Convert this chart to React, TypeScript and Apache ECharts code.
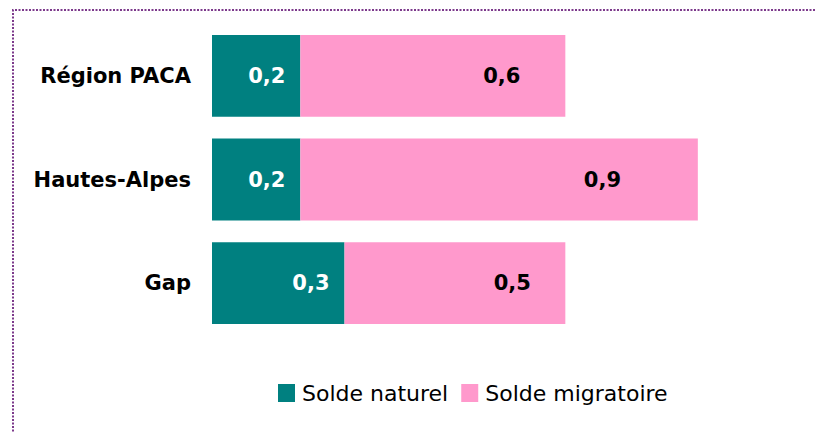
import React, { useEffect, useRef } from "react";
import * as echarts from "echarts";

const categories = ["Région PACA", "Hautes-Alpes", "Gap"];
const soldeNaturel = [0.2, 0.2, 0.3];
const soldeMigratoire = [0.6, 0.9, 0.5];
const seriesNames = ["Solde naturel", "Solde migratoire"];

const fmt = (v: number) => String(v).replace(".", ",");

export default function App() {
  const ref = useRef<HTMLDivElement>(null);
  useEffect(() => {
    const chart = echarts.init(ref.current!, null, { renderer: "svg" });
    chart.setOption({
      animation: false,
      backgroundColor: "#ffffff",
      grid: { left: 212, right: 75, top: 24, bottom: 97 },
      xAxis: {
        type: "value",
        min: 0,
        max: 1.2,
        show: false,
      },
      yAxis: {
        type: "category",
        data: categories,
        inverse: true,
        axisLine: { show: false },
        axisTick: { show: false },
        axisLabel: {
          margin: 21,
          color: "#000",
          fontSize: 21,
          fontWeight: "bold",
          fontFamily: "DejaVu Sans",
        },
      },
      legend: {
        top: 382,
        left: 278,
        padding: 0,
        itemWidth: 17,
        itemHeight: 18,
        itemGap: 13,
        icon: "rect",
        textStyle: { fontSize: 22, color: "#000", fontFamily: "DejaVu Sans", padding: [0, 0, 0, 2] },
        data: seriesNames,
      },
      graphic: [
        {
          type: "polyline",
          shape: { points: [[815, 10], [13, 10], [13, 450]] },
          style: {
            fill: "none",
            stroke: "#7d3a8c",
            lineWidth: 2,
            lineDash: [2, 1.5],
          },
          silent: true,
        },
      ],
      series: [
        {
          name: seriesNames[0],
          type: "bar",
          stack: "total",
          barWidth: "79%",
          itemStyle: { color: "#008080" },
          label: {
            show: true,
            position: "insideRight",
            distance: 15,
            color: "#fff",
            fontSize: 21,
            fontWeight: "bold",
            fontFamily: "DejaVu Sans",
            formatter: (p: any) => fmt(p.value),
          },
          data: soldeNaturel,
        },
        {
          name: seriesNames[1],
          type: "bar",
          stack: "total",
          barWidth: "79%",
          itemStyle: { color: "#ff99cc" },
          label: {
            show: true,
            position: ["76%", "50%"],
            align: "center",
            verticalAlign: "middle",
            color: "#000",
            fontSize: 21,
            fontWeight: "bold",
            fontFamily: "DejaVu Sans",
            formatter: (p: any) => fmt(p.value),
          },
          data: soldeMigratoire,
        },
      ],
    });
    return () => chart.dispose();
  }, []);
  return (
    <div
      ref={ref}
      style={{ position: "fixed", left: 0, top: 0, width: 817, height: 432 }}
    />
  );
}
